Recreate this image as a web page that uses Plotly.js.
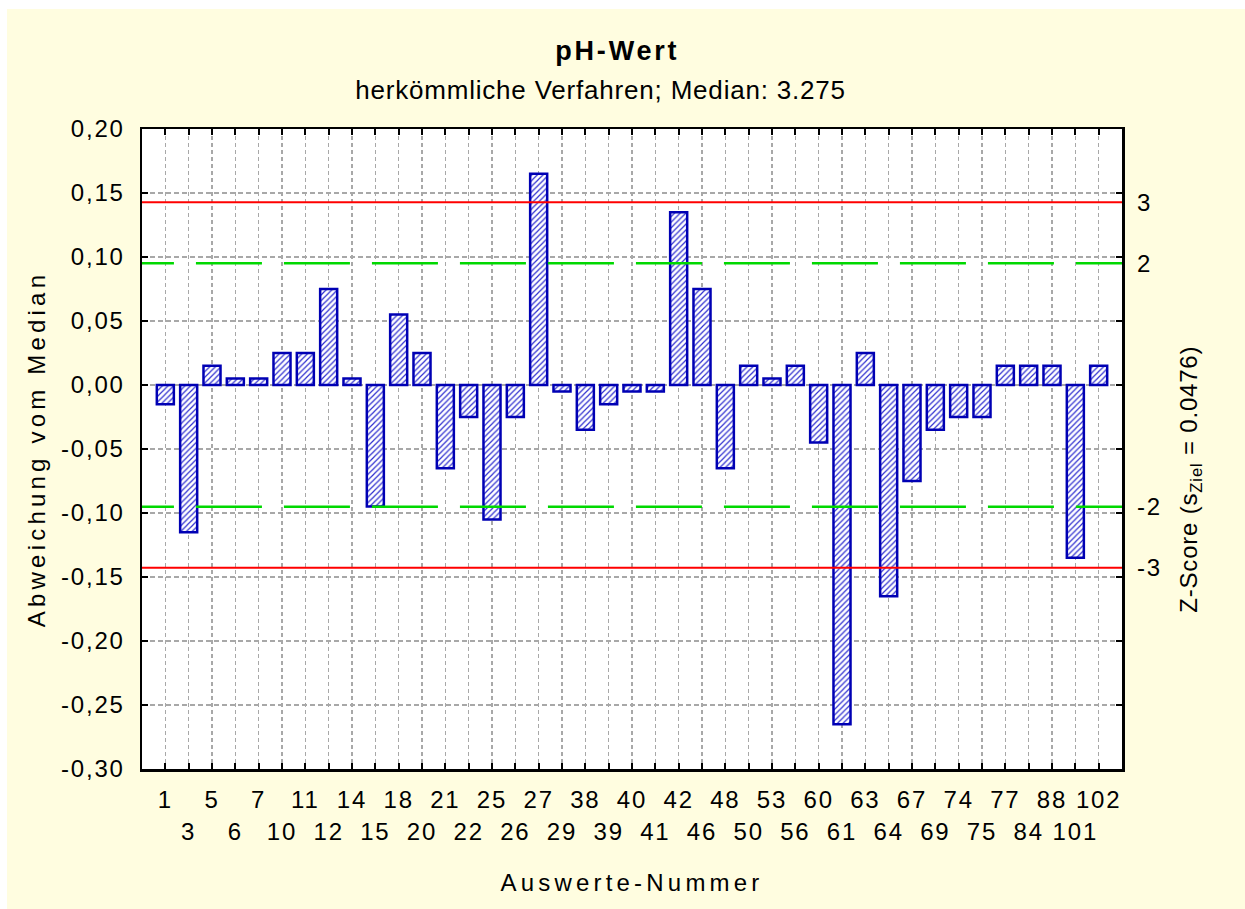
<!DOCTYPE html>
<html><head><meta charset="utf-8">
<script src="https://cdn.plot.ly/plotly-3.0.1.min.js"></script>
<style>
html,body{margin:0;padding:0;background:#fff;}
#chart{position:absolute;left:7px;top:9px;width:1238px;height:900px;}
#chart .xtick text, #chart .ytick text, #chart .y2tick text{letter-spacing:1.8px;}
#chart .xtitle, #chart .ytitle{letter-spacing:4.2px;}
#chart .gtitle{letter-spacing:2.8px;}
#chart .annotation-text{letter-spacing:0.8px;}
#chart .annotation:nth-of-type(2) .annotation-text{letter-spacing:1.3px;}
</style>
</head><body><div id="chart"></div>
<script>
const categories = ["1","3","5","6","7","10","11","12","14","15","18","20","21","22","25","26","27","29","38","39","40","41","42","46","48","50","53","56","60","61","63","64","67","69","74","75","77","84","88","101","102"];
const deviations = [-0.015,-0.115,0.015,0.005,0.005,0.025,0.025,0.075,0.005,-0.095,0.055,0.025,-0.065,-0.025,-0.105,-0.025,0.165,-0.005,-0.035,-0.015,-0.005,-0.005,0.135,0.075,-0.065,0.015,0.005,0.015,-0.045,-0.265,0.025,-0.165,-0.075,-0.035,-0.025,-0.025,0.015,0.015,0.015,-0.135,0.015];
const yTickVals = [-0.30,-0.25,-0.20,-0.15,-0.10,-0.05,0.00,0.05,0.10,0.15,0.20];
const yTickText = ["-0,30","-0,25","-0,20","-0,15","-0,10","-0,05","0,00","0,05","0,10","0,15","0,20"];
const zScoreTicks = [3,2,-2,-3];
const zScoreText = ["3","2","-2","-3"];
const sZiel = 0.0476;
const median = "3.275";

const xTickText = categories.map((c,i)=> i%2 ? "<br>"+c : c);
const font = "Liberation Sans, Arial, Helvetica, sans-serif";
const yRange = [-0.30, 0.20];

const traces = [
  {type:'bar', x:categories, y:deviations, width:0.73,
   marker:{color:'#ffffff', line:{color:'#0000B4', width:2.5},
           pattern:{shape:'/', fgcolor:'#3030D0', bgcolor:'#ffffff', size:4, solidity:0.3}},
   hoverinfo:'x+y', showlegend:false},
  {type:'scatter', mode:'none', x:categories, y:deviations, yaxis:'y2', hoverinfo:'skip', showlegend:false}
];

const shapes = [];
[3,-3].forEach(z=>shapes.push({type:'line', xref:'x', yref:'y', x0:-1, x1:41, y0:z*sZiel, y1:z*sZiel, line:{color:'#FF0000', width:2}}));
[2,-2].forEach(z=>shapes.push({type:'line', xref:'x', yref:'y', x0:-2.46, x1:43, y0:z*sZiel, y1:z*sZiel, line:{color:'#00D800', width:2.5, dash:'66px,22px'}}));

const layout = {
  width:1238, height:900,
  paper_bgcolor:'#FFFDE0', plot_bgcolor:'#ffffff',
  margin:{l:135, r:123, t:120, b:140},
  font:{family:font, size:24, color:'#000'},
  title:{text:'<b>pH-Wert</b>', font:{size:27, family:font}, x:0.493, xanchor:'center', y:0.954, yanchor:'middle'},
  annotations:[
    {text:'herkömmliche Verfahren; Median: '+median, xref:'paper', yref:'paper', x:0.468, y:1.061, xanchor:'center', yanchor:'middle', showarrow:false, font:{size:26, family:font}},
    {text:'Z-Score (s<sub>Ziel</sub> = 0.0476)', xref:'paper', yref:'paper', x:1.0694, y:0.453, xanchor:'center', yanchor:'middle', textangle:-90, showarrow:false, font:{size:24, family:font}}
  ],
  xaxis:{type:'category', range:[-1,41], tickmode:'array', tickvals:categories, ticktext:xTickText, tickangle:0,
         ticks:'inside', ticklen:6, tickwidth:2, tickcolor:'#000', mirror:'ticks',
         showline:true, linecolor:'#000', linewidth:2.5,
         showgrid:true, gridcolor:'#A8A8A8', gridwidth:1.5, griddash:'4px,3px',
         tickfont:{size:24}, ticklabelstandoff:8,
         title:{text:'Auswerte-Nummer', font:{size:24}, standoff:31}},
  yaxis:{range:yRange, tickmode:'array', tickvals:yTickVals, ticktext:yTickText,
         ticks:'inside', ticklen:6, tickwidth:2, tickcolor:'#000', mirror:'ticks',
         showline:true, linecolor:'#000', linewidth:2.5, zeroline:false,
         showgrid:true, gridcolor:'#A8A8A8', gridwidth:1.5, griddash:'5px,3px',
         tickfont:{size:24}, ticklabelstandoff:10,
         title:{text:'Abweichung vom Median', font:{size:24}, standoff:18}},
  yaxis2:{overlaying:'y', side:'right', range:yRange, tickmode:'array',
          tickvals:zScoreTicks.map(z=>z*sZiel), ticktext:zScoreText,
          ticks:'', showgrid:false, zeroline:false, showline:false,
          tickfont:{size:24}, ticklabelstandoff:14},
  shapes:shapes,
  bargap:0.27
};
Plotly.newPlot('chart', traces, layout, {displayModeBar:false, staticPlot:true});
</script></body></html>
